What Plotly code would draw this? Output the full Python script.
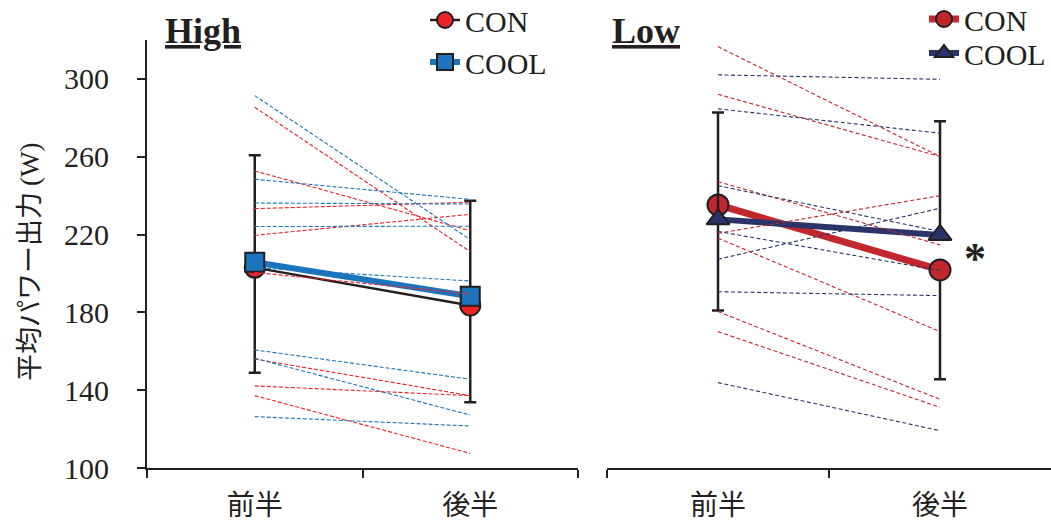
import plotly.graph_objects as go

# ---------------- data ----------------
phases = ["前半", "後半"]

# High condition – individual subjects (dashed)
high_con_first = [285.4, 252.7, 233.3, 219.6, 200.5, 156.0, 142.2, 137.2]
high_con_second = [211.2, 222.0, 236.6, 230.4, 189.5, 137.2, 137.2, 107.5]
high_cool_first = [291.4, 248.4, 236.2, 224.1, 203.0, 160.7, 156.4, 126.4]
high_cool_second = [217.4, 238.1, 235.7, 224.3, 196.1, 145.6, 127.2, 121.6]

# High condition – means and SD
high_con_mean = [203.0, 183.5]
high_cool_mean = [205.8, 188.3]
high_cool_sd = [55.0, 49.1]
high_con_sd = [54.0, 49.7]

# Low condition – individual subjects (dashed)
low_con_first = [316.6, 292.1, 247.2, 220.6, 218.1, 180.4, 170.1]
low_con_second = [260.1, 260.1, 214.7, 240.0, 170.1, 135.3, 131.2]
low_cool_first = [302.1, 284.6, 245.1, 221.6, 207.3, 190.6, 143.9]
low_cool_second = [299.8, 272.1, 221.6, 201.5, 233.5, 188.6, 119.2]

# Low condition – means and SD
low_con_mean = [235.2, 201.8]
low_cool_mean = [227.8, 219.8]
low_cool_sd = [54.9, 58.4]
low_con_sd = [54.3, 56.2]

y_ticks = [100, 140, 180, 220, 260, 300]

# ---------------- styles ----------------
INK = "#231f20"
H_RED = "#ec2227"
H_BLUE = "#1c75bc"
L_RED = "#c1272d"
L_NAVY = "#2b3468"
SERIF = "Liberation Serif, Times New Roman, serif"
CJK = "Noto Sans CJK JP, sans-serif"

fig = go.Figure()

# ---- High: means ----
fig.add_trace(go.Scatter(
    x=phases, y=high_con_mean, name="CON", mode="lines+markers",
    xaxis="x", yaxis="y", legend="legend",
    line=dict(color=INK, width=2.5),
    marker=dict(symbol="circle", size=20, color=H_RED, line=dict(color=INK, width=2)),
    error_y=dict(type="data", symmetric=False, array=[0, 0], arrayminus=high_con_sd,
                 color=INK, thickness=2.5, width=6),
))
fig.add_trace(go.Scatter(
    x=phases, y=high_cool_mean, name="COOL", mode="lines+markers",
    xaxis="x", yaxis="y", legend="legend",
    line=dict(color=H_BLUE, width=6),
    marker=dict(symbol="square", size=19, color=H_BLUE, line=dict(color=INK, width=2)),
    error_y=dict(type="data", symmetric=False, array=high_cool_sd, arrayminus=[0, 0],
                 color=INK, thickness=2.5, width=6),
))

# ---- High: individuals ----
for a, b in zip(high_con_first, high_con_second):
    fig.add_trace(go.Scatter(x=phases, y=[a, b], mode="lines", xaxis="x", yaxis="y",
                             line=dict(color=H_RED, width=1.1, dash="4px,2px"),
                             showlegend=False, hoverinfo="skip"))
for a, b in zip(high_cool_first, high_cool_second):
    fig.add_trace(go.Scatter(x=phases, y=[a, b], mode="lines", xaxis="x", yaxis="y",
                             line=dict(color=H_BLUE, width=1.1, dash="4px,2px"),
                             showlegend=False, hoverinfo="skip"))

# ---- Low: means ----
fig.add_trace(go.Scatter(
    x=phases, y=low_con_mean, name="CON", mode="lines+markers",
    xaxis="x2", yaxis="y", legend="legend2",
    line=dict(color=L_RED, width=7),
    marker=dict(symbol="circle", size=21, color=L_RED, line=dict(color=INK, width=2)),
    error_y=dict(type="data", symmetric=False, array=[0, 0], arrayminus=low_con_sd,
                 color=INK, thickness=2.5, width=6),
))
fig.add_trace(go.Scatter(
    x=phases, y=low_cool_mean, name="COOL", mode="lines+markers",
    xaxis="x2", yaxis="y", legend="legend3",
    line=dict(color=L_NAVY, width=6),
    marker=dict(symbol="triangle-up", size=20, color=L_NAVY, line=dict(color=INK, width=2)),
    error_y=dict(type="data", symmetric=False, array=low_cool_sd, arrayminus=[0, 0],
                 color=INK, thickness=2.5, width=6),
))

# ---- Low: individuals ----
for a, b in zip(low_con_first, low_con_second):
    fig.add_trace(go.Scatter(x=phases, y=[a, b], mode="lines", xaxis="x2", yaxis="y",
                             line=dict(color=L_RED, width=1.1, dash="4px,2.5px"),
                             showlegend=False, hoverinfo="skip"))
for a, b in zip(low_cool_first, low_cool_second):
    fig.add_trace(go.Scatter(x=phases, y=[a, b], mode="lines", xaxis="x2", yaxis="y",
                             line=dict(color=L_NAVY, width=1.1, dash="4px,2.5px"),
                             showlegend=False, hoverinfo="skip"))

W, H = 1051, 524


def fx(p):
    return p / W


def fy(p):
    return (H - p) / H


xcommon = dict(
    type="category", categoryorder="array", categoryarray=phases, range=[-0.5, 1.5],
    showline=True, linecolor=INK, linewidth=2, ticks="outside", tickson="boundaries",
    ticklen=8, tickwidth=2, tickcolor=INK, showgrid=False, zeroline=False,
    tickfont=dict(family=CJK, size=28, color=INK), ticklabelstandoff=11,
    automargin=False,
)

legend_common = dict(
    bgcolor="rgba(0,0,0,0)", font=dict(family=SERIF, size=30, color=INK),
    tracegroupgap=0, yanchor="top",
)

fig.update_layout(
    width=W, height=H,
    margin=dict(l=0, r=0, t=0, b=0, autoexpand=False),
    paper_bgcolor="white", plot_bgcolor="white",
    xaxis=dict(domain=[fx(147), fx(578)], anchor="y", **xcommon),
    xaxis2=dict(domain=[fx(607), 1], anchor="y", **xcommon),
    yaxis=dict(
        domain=[fy(468), fy(40)],
        range=[100, 320], anchor="x", tickvals=y_ticks,
        showline=True, linecolor=INK, linewidth=2, ticks="outside",
        ticklen=8, tickwidth=2, tickcolor=INK, showgrid=False, zeroline=False,
        tickfont=dict(family=SERIF, size=30, color=INK), ticklabelstandoff=22,
        automargin=False,
    ),
    legend=dict(x=fx(425), y=fy(-6), xanchor="left", **legend_common),
    legend2=dict(x=fx(924), y=fy(-7), xanchor="left", **legend_common),
    legend3=dict(x=fx(924), y=fy(27), xanchor="left", **legend_common),
    showlegend=True,
    annotations=[
        dict(text="<b><u>High</u></b>", x=fx(163), y=fy(9), xref="paper", yref="paper",
             xanchor="left", yanchor="top", showarrow=False,
             font=dict(family=SERIF, size=36, color=INK)),
        dict(text="<b><u>Low</u></b>", x=fx(610), y=fy(9), xref="paper", yref="paper",
             xanchor="left", yanchor="top", showarrow=False,
             font=dict(family=SERIF, size=36, color=INK)),
        dict(text="<b>*</b>", x=fx(975), y=fy(258), xref="paper", yref="paper",
             xanchor="center", yanchor="middle", showarrow=False,
             font=dict(family=SERIF, size=44, color=INK)),
        dict(text="平均パワー出力 <span style='font-family:Liberation Serif'>(W)</span>",
             x=fx(27), y=fy(262), xref="paper", yref="paper",
             xanchor="center", yanchor="middle", textangle=-90, showarrow=False,
             font=dict(family=CJK, size=27, color=INK)),
    ],
)

fig.write_html(
    "out.html",
    config={"displayModeBar": False},
    post_script="document.body.style.margin='0';document.body.style.overflow='hidden';",
)
